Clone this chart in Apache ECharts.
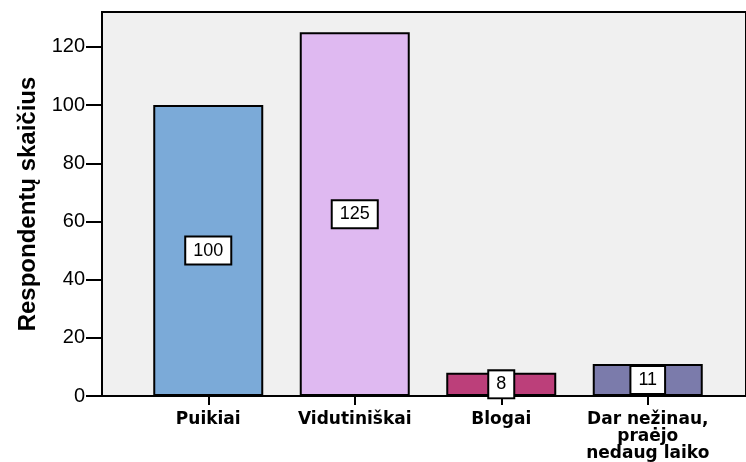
<!DOCTYPE html>
<html>
<head>
<meta charset="utf-8">
<script src="https://cdn.jsdelivr.net/npm/echarts@6/dist/echarts.min.js"></script>
<style>
  html, body { margin: 0; padding: 0; background: #fff; }
  #chart { width: 746px; height: 462px; }
</style>
</head>
<body>
<div id="chart"></div>
<script>
var categories = ['Puikiai', 'Vidutiniškai', 'Blogai', 'Dar nežinau,\npraėjo\nnedaug laiko']
var counts = [100, 125, 8, 11]
var barColors = ['#7baad8', '#dfb9f1', '#bc3f7a', '#7b7bab']
var yTicks = [0, 20, 40, 60, 80, 100, 120]

var yMax = 132

var chart = echarts.init(document.getElementById('chart'))
chart.setOption({
  animation: false,
  textStyle: { fontFamily: 'Liberation Sans' },
  grid: [
    // frame with grey background
    {
      left: 102, right: -3, top: 12, bottom: 66,
      show: true,
      backgroundColor: '#f0f0f0',
      borderColor: '#000',
      borderWidth: 2
    },
    // inner band for the bars
    { left: 135, right: 25, top: 12, bottom: 66 }
  ],
  xAxis: [
    { type: 'value', gridIndex: 0, show: false, min: 0, max: 1 },
    {
      type: 'category',
      gridIndex: 1,
      data: categories,
      axisLine: { show: false },
      axisTick: {
        show: true,
        alignWithLabel: true,
        length: 9,
        lineStyle: { color: '#000', width: 2 }
      },
      axisLabel: {
        margin: 15,
        interval: 0,
        color: '#000',
        fontFamily: 'DejaVu Sans',
        fontWeight: 'bold',
        fontSize: 17,
        lineHeight: 17
      }
    }
  ],
  yAxis: [
    {
      type: 'value',
      gridIndex: 0,
      min: 0,
      max: yMax,
      interval: 20,
      name: 'Respondentų skaičius',
      nameLocation: 'middle',
      nameGap: 62,
      nameTextStyle: {
        color: '#000',
        fontWeight: 'bold',
        fontSize: 24,
        fontFamily: 'Liberation Sans'
      },
      axisLine: { show: true, lineStyle: { color: '#000', width: 2 } },
      axisTick: {
        show: true,
        length: 16,
        customValues: yTicks,
        lineStyle: { color: '#000', width: 2 }
      },
      splitLine: { show: false },
      axisLabel: {
        color: '#000',
        fontSize: 20,
        margin: 17,
        customValues: yTicks
      }
    },
    { type: 'value', gridIndex: 1, min: 0, max: yMax, show: false }
  ],
  series: [
    {
      type: 'bar',
      xAxisIndex: 1,
      yAxisIndex: 1,
      barWidth: 110,
      data: counts.map(function (v, i) {
        return { value: v, itemStyle: { color: barColors[i] } }
      }),
      itemStyle: { borderColor: '#000', borderWidth: 2 },
      label: {
        show: true,
        position: 'inside',
        color: '#000',
        fontSize: 18,
        lineHeight: 20,
        backgroundColor: '#fff',
        borderColor: '#000',
        borderWidth: 2,
        padding: [3, 7]
      }
    }
  ]
})
</script>
</body>
</html>
